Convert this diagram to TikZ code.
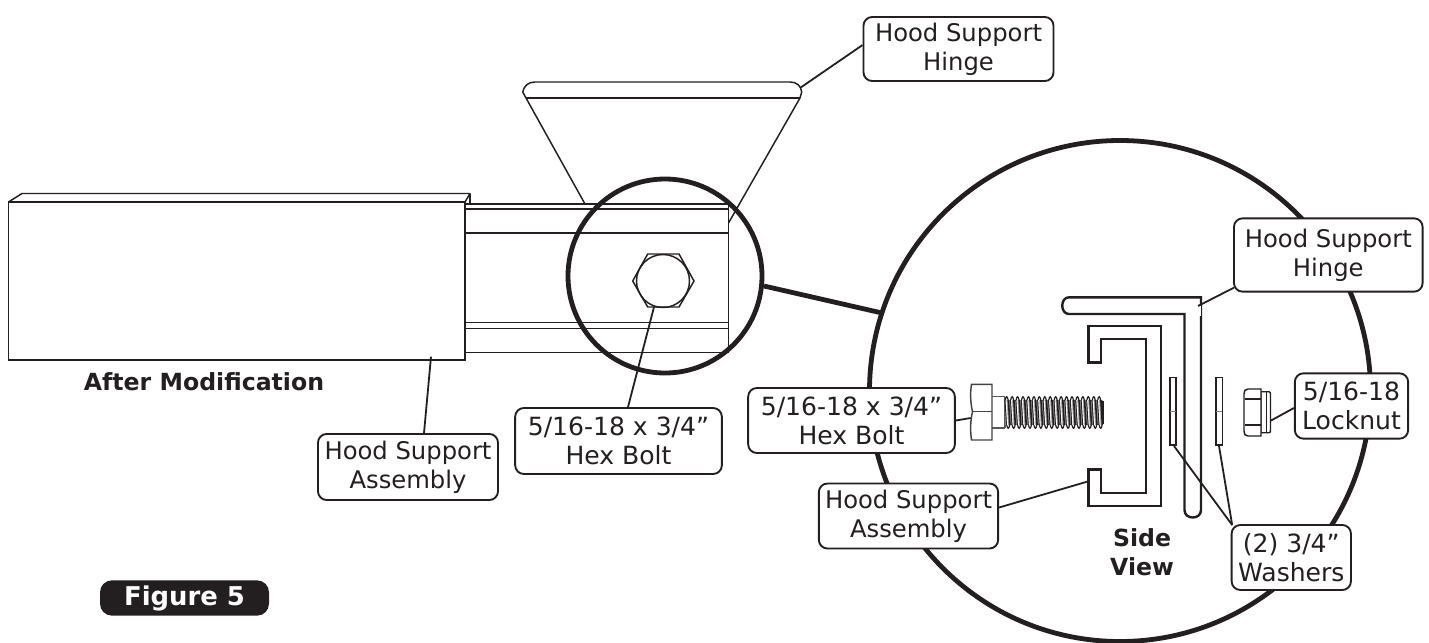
\documentclass[tikz,border=0pt]{standalone}
\usepackage{fontspec}
\setmainfont{DejaVu Sans}
\usetikzlibrary{calc}
\definecolor{ink}{HTML}{231F20}
\tikzset{
  thin line/.style={draw=ink,line width=1.1pt},
  med line/.style={draw=ink,line width=1.8pt,line join=miter},
  heavy/.style={draw=ink,line width=3.6pt},
  leader/.style={draw=ink,line width=1.35pt},
  lbl/.style={draw=ink,line width=1.4pt,fill=white,rounded corners=6.5pt,inner sep=0pt,align=center,
     font=\fontsize{18.2}{21.8}\selectfont,text=ink},
  numlbl/.style={lbl,font=\fontsize{18.8}{21.8}\selectfont},
  boldlbl/.style={inner sep=0pt,align=center,font=\fontsize{17.7}{21.8}\selectfont\bfseries,text=ink}
}
\begin{document}
\begin{tikzpicture}[x=0.75pt,y=-0.75pt]
\useasboundingbox (0,0) rectangle (1429,643);
% hinge, top view
\draw[thin line,line join=round] (526,98) -- (800,98);
\draw[thin line] (526,98) -- (522.7,92) .. controls (524,86) and (528,82) .. (535,82) -- (790,82) .. controls (797,82) and (801,86) .. (801.7,92) -- (800,98);
\draw[thin line] (526,98) -- (585,204);
\draw[thin line] (800,98) -- (728.5,223);
% channel
\foreach \yy in {204,209,233,322.7,328.7,352.7} \draw[thin line] (465,\yy) -- (728.5,\yy);
\draw[thin line] (728.5,204) -- (728.5,352.7);
% outer tube
\draw[thin line,fill=white] (8.5,202) rectangle (465,360);
\draw[thin line,line join=round] (8.5,202) -- (22,193.5) -- (470,193.5) -- (465,202);
\draw[thin line] (470,193.5) -- (470,204);
% hex bolt front
\coordinate (boltfront) at (654,307);
\draw[thin line,fill=white] (632.7,281) -- (647.7,254) -- (679,254) -- (694,281) -- (679,307) -- (647.7,307) -- cycle;
\draw[thin line] (663,281) circle [radius=26.5];
% big circle & link
\coordinate (smallE) at (764,286);
\coordinate (bigW) at (882,313);
\draw[heavy] (665,276) circle [radius=97];
\draw[heavy] (smallE) -- (bigW);
\draw[heavy] (1120,391) circle [radius=250.5];
% side view hinge
\draw[med line] (1184.5,510) .. controls (1184.5,520) and (1201,520) .. (1201,510) -- (1201,297.3) -- (1069,297.3) .. controls (1060,297.3) and (1060,314) .. (1069,314) -- (1184.5,314) -- (1184.5,510);
\draw[white,line width=1pt] (1199.9,306) -- (1199.9,316);
% channel side view
\draw[med line] (1088.3,362.3) -- (1100.7,362.3) -- (1100.7,339) -- (1146,339) -- (1146,492.7) -- (1100.7,492.7) -- (1100.7,469.3) -- (1088.3,469.3) -- (1088.3,506) -- (1161,506) -- (1161,326) -- (1088.3,326) -- cycle;
% washers
\draw[thin line,fill=white] (1170,377.3) rectangle (1176,445);
\draw[thin line,fill=white] (1216,377.3) rectangle (1222.3,445);
\draw[draw=gray,line width=0.5pt] (1170,411.5) -- (1176,411.5) (1216,411.5) -- (1222.3,411.5);
% bolt head + shank
\draw[draw=ink!75,line width=1pt] (992,396.7) -- (1005,396.7) (992,428) -- (1005,428) (1005,396.7) -- (1005,428);
\draw[draw=ink!85,line width=1.1pt,fill=white] (971.5,384.3) -- (992,384.3) -- (992,440) -- (971.5,440) .. controls (970,430) and (970.5,420) .. (972.5,411.7) .. controls (970.5,403) and (970,394) .. (971.5,384.3) -- cycle;
\draw[draw=ink!85,line width=1.1pt] (972,411.7) -- (992,411.7);
% thread
\fill[ink!45] (1005,400) rectangle (1103,425);
\foreach \i in {0,...,17}{
  \pgfmathsetmacro{\xa}{1005+5.44*\i}
  \draw[ink,line width=0.9pt,line join=round] (\xa,401) .. controls (\xa+1.2,395.2) and (\xa+2.2,395.2) .. (\xa+3.4,401) (\xa+1.5,424) .. controls (\xa+2.7,429.8) and (\xa+3.7,429.8) .. (\xa+4.9,424);
  \draw[ink,line width=1.2pt] (\xa+3.4,400) -- (\xa+4.9,425);
  \draw[white,line width=0.9pt] (\xa+1,400) -- (\xa+2.5,425);
  \draw[ink,line width=0.7pt] (\xa,400) -- (\xa+1.5,425);
}
\draw[ink,line width=0.9pt] (1103,401) -- (1103,424);
% locknut
\draw[draw=ink,line width=1pt,fill=white] (1261,391.7) -- (1269,391.7) .. controls (1270.5,392) and (1270.5,393) .. (1270.5,395) -- (1270.5,429) .. controls (1270.5,432) and (1270.5,432.7) .. (1269,432.7) -- (1261,432.7) -- cycle;
\draw[draw=ink,line width=1pt] (1266.7,392) -- (1266.7,432.5);
\draw[draw=ink,line width=1.1pt,fill=white] (1261,389) -- (1248,389) .. controls (1245,389) and (1244,391) .. (1244,394) -- (1244,431) .. controls (1244,434) and (1245,436) .. (1248,436) -- (1261,436) -- cycle;
\draw[draw=ink,line width=1pt] (1245,399) -- (1261,399) (1245,425) -- (1261,425);
% part end points
\coordinate (hingeTop) at (800,88);
\coordinate (tubeEnd) at (431,356.7);
\coordinate (hingeSide) at (1198,306);
\coordinate (nutEnd) at (1270.7,420.7);
\coordinate (headEnd) at (970.7,418);
\coordinate (chanEnd) at (1087,481.7);
\coordinate (washA) at (1174,446);
\coordinate (washB) at (1219,446);
% labels
\node[lbl,minimum width=142.5pt,minimum height=48pt] (l1) at (958.5,49) {Hood Support\\Hinge};
\node[lbl,minimum width=141.5pt,minimum height=55pt] (l2) at (1328.3,255) {Hood Support\\Hinge};
\node[numlbl,minimum width=85pt,minimum height=49pt] (l3) at (1351.5,406) {5/16-18\\Locknut};
\node[numlbl,minimum width=155pt,minimum height=49.5pt] (l4) at (618.5,441) {5/16-18 x 3/4”\\Hex Bolt};
\node[numlbl,minimum width=155pt,minimum height=48.75pt] (l5) at (851.5,420.5) {5/16-18 x 3/4”\\Hex Bolt};
\node[lbl,minimum width=135pt,minimum height=49.5pt] (l6) at (408,467) {Hood Support\\Assembly};
\node[lbl,minimum width=134.5pt,minimum height=48.75pt] (l7) at (908.5,516) {Hood Support\\Assembly};
\node[numlbl,minimum width=89.5pt,minimum height=48.75pt] (l8) at (1291.3,557.5) {(2) 3/4”\\Washers};
\node[boldlbl] (after) at (204,382) {After Modification};
\node[boldlbl] (side) at (1142,552) {Side\\View};
\node[fill=ink,text=white,rounded corners=9pt,inner sep=0pt,minimum width=126.75pt,minimum height=26.5pt,font=\fontsize{19.4}{22}\selectfont\bfseries] (fig) at (184.5,598) {Figure 5};
% leaders
\draw[leader] ($(l1.west)+(0,-4)$) -- (hingeTop);
\draw[leader] ($(l2.south west)+(1,-5)$) -- (hingeSide);
\draw[leader] ($(l3.west)+(0,2)$) -- (nutEnd);
\draw[leader] ($(l4.north)+(9.5,0)$) -- (boltfront);
\draw[leader] (l5.east) -- (headEnd);
\draw[leader] ($(l6.north)+(16,0)$) -- (tubeEnd);
\draw[leader] ($(l7.east)+(0,-8.5)$) -- (chanEnd);
\draw[leader] ($(l8.north west)+(1.5,1)$) -- (washA);
\draw[leader] ($(l8.north west)+(1.5,1)$) -- (washB);
\end{tikzpicture}
\end{document}
